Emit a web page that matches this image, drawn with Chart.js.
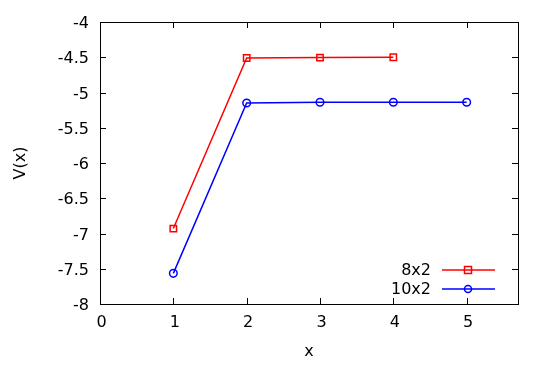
<!DOCTYPE html>
<html><head><meta charset="utf-8">
<script src="https://cdn.jsdelivr.net/npm/chart.js@4/dist/chart.umd.min.js"></script>
<style>html,body{margin:0;padding:0;background:#fff}#wrap{width:540px;height:365px}</style>
</head><body><div id="wrap"><canvas id="c" width="540" height="365"></canvas></div>
<script>
const xs8 = [1, 2, 3, 4];
const v8 = [-6.93, -4.51, -4.505, -4.50];
const xs10 = [1, 2, 3, 4, 5];
const v10 = [-7.565, -5.148, -5.139, -5.139, -5.139];
const xTicks = [0, 1, 2, 3, 4, 5];
const yTicks = [-8, -7.5, -7, -6.5, -6, -5.5, -5, -4.5, -4];
const seriesNames = ['8x2', '10x2'];
const colors = ['#ff0000', '#0000ff'];
const FONT = 'DejaVu Sans, sans-serif';
const FS = 16;

const frame = {
  id: 'frame',
  afterDraw(chart) {
    const {ctx, chartArea: a, scales} = chart;
    ctx.save();
    ctx.strokeStyle = '#000'; ctx.lineWidth = 1;
    ctx.strokeRect(Math.round(a.left)+0.5, Math.round(a.top)+0.5, Math.round(a.right-a.left), Math.round(a.bottom-a.top));
    const L = 6;
    ctx.beginPath();
    xTicks.forEach(v => {
      const px = Math.round(scales.x.getPixelForValue(v)) + 0.5;
      ctx.moveTo(px, a.bottom); ctx.lineTo(px, a.bottom - L);
      ctx.moveTo(px, a.top); ctx.lineTo(px, a.top + L);
    });
    yTicks.forEach(v => {
      const py = Math.round(scales.y.getPixelForValue(v)) + 0.5;
      ctx.moveTo(a.left, py); ctx.lineTo(a.left + L, py);
      ctx.moveTo(a.right, py); ctx.lineTo(a.right - L, py);
    });
    ctx.stroke();
    // legend
    ctx.font = FS + 'px ' + FONT;
    ctx.textAlign = 'right'; ctx.textBaseline = 'middle';
    const rows = [270, 289];
    seriesNames.forEach((n, i) => {
      const y = rows[i];
      ctx.fillStyle = '#000';
      ctx.fillText(n, 431, y + 1);
      ctx.strokeStyle = colors[i]; ctx.lineWidth = 1.5;
      ctx.beginPath(); ctx.moveTo(442, y); ctx.lineTo(495, y); ctx.stroke();
      ctx.beginPath();
      if (i === 0) ctx.rect(468 - 3.5, y - 3.5, 7, 7);
      else ctx.arc(468, y, 3.5, 0, Math.PI * 2);
      ctx.stroke();
    });
    ctx.restore();
  }
};

new Chart(document.getElementById('c'), {
  type: 'scatter',
  data: {
    datasets: [
      { label: seriesNames[0], data: xs8.map((x, i) => ({x, y: v8[i]})), showLine: true,
        borderColor: colors[0], backgroundColor: 'rgba(0,0,0,0)', borderWidth: 1.5,
        pointStyle: 'rect', pointRadius: 4.5, pointBorderWidth: 1.5, pointBorderColor: colors[0] },
      { label: seriesNames[1], data: xs10.map((x, i) => ({x, y: v10[i]})), showLine: true,
        borderColor: colors[1], backgroundColor: 'rgba(0,0,0,0)', borderWidth: 1.5,
        pointStyle: 'circle', pointRadius: 3.8, pointBorderWidth: 1.5, pointBorderColor: colors[1] }
    ]
  },
  options: {
    responsive: false, animation: false, devicePixelRatio: 1,
    layout: { padding: { left: 0, right: 22, top: 22, bottom: 0 } },
    plugins: { legend: { display: false }, tooltip: { enabled: false } },
    scales: {
      x: {
        type: 'linear', min: 0, max: 5.7,
        afterBuildTicks: s => { s.ticks = xTicks.map(v => ({value: v})); },
        afterFit: s => { s.height = 61; },
        grid: { display: false, drawTicks: false },
        border: { display: false },
        ticks: { color: '#000', font: { family: FONT, size: FS }, padding: 9, maxRotation: 0, labelOffset: 1.5,
                 callback: v => String(v) },
        title: { display: true, text: 'x', color: '#000', font: { family: FONT, size: FS }, padding: { top: 4, bottom: 4 } }
      },
      y: {
        type: 'linear', min: -8, max: -4,
        afterBuildTicks: s => { s.ticks = yTicks.map(v => ({value: v})); },
        afterFit: s => { s.width = 100; },
        grid: { display: false, drawTicks: false },
        border: { display: false },
        ticks: { color: '#000', font: { family: FONT, size: FS }, padding: 11, labelOffset: 2,
                 callback: v => String(v) },
        title: { display: true, text: 'V(x)', color: '#000', font: { family: FONT, size: FS }, padding: { top: 11, bottom: 0 } }
      }
    }
  },
  plugins: [frame]
});
</script></body></html>
